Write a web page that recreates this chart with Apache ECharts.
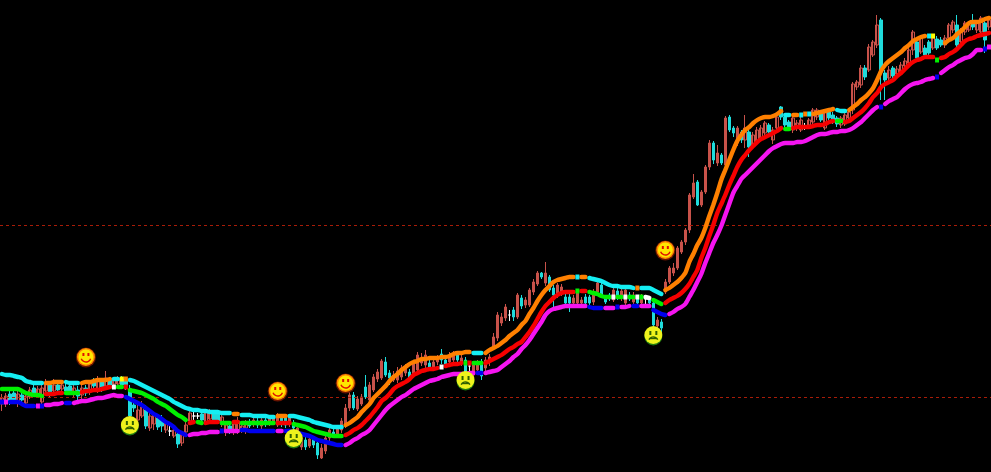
<!DOCTYPE html>
<html><head><meta charset="utf-8">
<style>html,body{margin:0;padding:0;background:#000}#c{width:991px;height:472px}</style>
<script src="https://cdn.jsdelivr.net/npm/echarts@6/dist/echarts.min.js"></script>
</head><body><div id="c"></div>
<script>
// Values are price levels on an axis that grows downward.
const levels = [225, 397];
const upperBand = [
374,375,375,376,377,378,381,382,383,383,
383,383,383,382,382,382,382,383,383,383,
383,382,382,381,380,380,380,379,379,379,
379,379,380,381,383,385,387,389,391,393,
395,397,399,402,404,406,408,409,410,410,
411,411,412,412,412,413,413,413,414,414,
415,415,415,416,416,416,416,417,417,416,
416,416,416,416,417,418,419,420,422,423,
424,425,426,427,427,427,425,423,420,417,
412,408,404,398,394,390,386,381,377,374,
370,367,364,362,361,359,359,358,358,358,
357,357,356,354,353,353,352,352,353,353,
353,353,350,348,346,343,340,336,333,330,
325,321,314,308,301,295,290,286,282,280,
279,278,277,277,277,277,277,278,279,280,
281,283,285,286,286,287,287,287,288,288,
288,288,288,290,292,294,290,288,285,282,
278,273,262,254,245,238,228,216,205,193,
180,170,160,150,141,135,130,127,123,120,
118,117,117,116,114,111,115,115,115,115,
115,114,114,114,113,112,111,110,109,110,
111,111,110,107,104,100,97,93,88,80,
71,65,61,58,55,52,48,45,41,39,
37,36,36,36,38,40,43,40,38,34,
31,27,23,22,22,21,19,18];
const midBand = [
389,389,389,389,389,391,393,394,395,395,
396,394,394,394,393,393,393,393,393,393,
392,391,391,390,390,389,388,387,387,387,
387,387,390,391,392,393,395,397,399,402,
404,406,409,412,415,417,420,423,422,422,
423,423,422,422,422,423,423,423,422,422,
423,423,423,423,423,423,423,423,423,423,
423,423,423,424,425,426,427,429,431,432,
433,434,435,436,436,436,435,433,430,428,
425,421,417,412,407,401,398,394,389,386,
384,382,379,375,373,371,370,369,369,368,
367,366,365,364,364,363,363,363,363,363,
363,363,361,359,357,355,352,349,347,344,
342,337,332,326,319,312,306,302,298,295,
293,292,292,292,291,291,291,292,293,294,
296,297,297,297,297,297,297,297,297,297,
297,297,298,300,302,304,303,300,298,296,
293,289,284,277,270,258,248,236,225,213,
204,195,185,176,167,160,155,150,146,142,
139,137,135,133,131,128,129,129,128,127,
127,127,127,126,125,125,124,122,121,121,
121,122,121,118,115,112,108,103,97,93,
87,84,82,80,76,73,69,65,62,60,
59,57,57,57,60,58,57,54,52,49,
45,41,39,38,36,35,34,33];
const lowerBand = [
402,402,402,402,402,404,406,406,406,406,
406,405,405,404,404,403,403,403,403,402,
401,401,400,399,398,398,397,396,395,396,
396,397,399,401,403,405,408,411,414,416,
419,422,424,427,431,433,435,435,434,434,
433,433,432,432,432,431,431,431,431,431,
430,430,431,431,431,431,431,431,431,431,
431,431,431,432,433,434,435,436,438,440,
441,442,443,444,445,445,445,443,440,438,
435,433,430,425,420,415,410,406,403,400,
397,395,392,389,387,385,383,381,380,379,
377,376,375,374,374,374,374,373,373,373,
373,373,372,371,370,367,364,361,357,354,
349,345,340,334,328,322,315,311,309,308,
307,306,306,306,306,306,306,307,308,308,
308,308,308,308,307,307,307,306,306,306,
306,306,306,310,312,314,315,314,312,309,
307,304,297,290,282,274,263,253,243,235,
226,215,204,193,186,179,175,171,167,163,
159,155,151,148,146,144,143,143,143,142,
142,141,139,137,135,134,134,133,132,132,
131,131,130,128,125,122,118,114,110,107,
107,104,101,99,97,93,89,86,84,83,
82,80,79,78,77,73,70,67,65,62,
60,58,57,54,50,50,49,47];
// Runs of [bars, state] along each band. State "-" means nothing is drawn.
const upperRuns = [[11,'c'],[5,'o'],[4,'c'],[8,'o'],[2,'c'],[1,'y'],[1,'o'],[26,'c'],[2,'o'],[9,'c'],[3,'o'],[14,'c'],[32,'o'],[3,'c'],[23,'o'],[1,'c'],[2,'o'],[12,'c'],[1,'o'],[6,'c'],[30,'o'],[2,'c'],[2,'o'],[1,'c'],[1,'o'],[1,'c'],[6,'o'],[3,'c'],[20,'o'],[1,'c'],[1,'y'],[2,'-'],[12,'o']];
const midRuns = [[11,'g'],[5,'r'],[4,'g'],[8,'r'],[1,'w'],[2,'g'],[1,'r'],[15,'g'],[2,'r'],[2,'g'],[4,'r'],[3,'g'],[2,'r'],[9,'g'],[4,'r'],[13,'g'],[24,'r'],[1,'w'],[5,'r'],[1,'g'],[1,'r'],[3,'g'],[23,'r'],[1,'g'],[2,'r'],[6,'g'],[1,'w'],[2,'g'],[1,'w'],[2,'g'],[1,'w'],[1,'g'],[2,'w'],[3,'g'],[30,'r'],[2,'g'],[11,'r'],[2,'g'],[23,'r'],[1,'g'],[13,'r']];
const lowerRuns = [[1,'b'],[1,'m'],[7,'b'],[1,'m'],[1,'b'],[5,'m'],[2,'b'],[13,'m'],[16,'b'],[8,'m'],[1,'b'],[4,'m'],[9,'b'],[2,'m'],[15,'b'],[33,'m'],[2,'b'],[26,'m'],[4,'b'],[3,'m'],[1,'b'],[3,'m'],[2,'b'],[3,'m'],[4,'b'],[53,'m'],[1,'b'],[13,'m'],[1,'b'],[11,'m'],[1,'b'],[1,'m']];
// [open, close, low, high]; open below close on the page is a rising bar.
const candles = [
[404,398,411,394],[403,396,407,393],[394,401,405,390],[393,400,404,390],[401,394,407,389],[395,400,403,391],[403,396,408,392],[397,390,399,387],[388,394,397,385],[394,389,397,386],
[402,388,404,384],[391,383,396,379],[385,392,397,381],[391,385,395,379],[385,390,395,382],[389,385,393,381],[387,391,394,383],[386,392,395,383],[392,388,397,384],[390,396,400,386],
[395,388,399,384],[388,393,396,385],[390,384,395,380],[381,386,390,378],[389,381,393,376],[381,387,392,378],[386,378,390,371],[380,385,389,377],[384,379,388,377],[384,378,387,376],
[379,385,388,376],[381,386,390,378],[390,416,418,385],[405,408,412,402],[420,410,424,405],[416,407,418,401],[410,426,429,405],[428,416,431,411],[424,415,430,412],[418,427,430,414],
[420,426,432,415],[430,423,433,420],[431,431,436,426],[436,430,438,426],[434,444,448,431],[443,433,446,431],[432,425,436,420],[421,413,424,410],[416,416,420,412],[416,416,419,413],
[414,420,423,412],[423,412,425,409],[419,412,422,409],[414,420,423,410],[414,421,424,412],[424,417,427,413],[432,425,436,421],[426,431,434,423],[431,424,435,421],[431,421,434,417],
[431,426,433,423],[428,423,434,420],[423,426,428,419],[424,420,427,416],[421,425,428,417],[426,420,429,416],[420,424,427,417],[424,418,426,415],[422,417,425,415],[425,415,427,413],
[416,424,427,414],[418,425,428,415],[423,417,427,414],[424,428,430,420],[434,428,436,425],[447,438,450,432],[440,447,450,437],[446,439,448,436],[439,445,448,436],[443,455,459,440],
[458,448,459,444],[451,438,454,434],[438,430,441,426],[432,434,437,428],[434,428,437,425],[430,421,433,418],[425,408,428,404],[408,395,411,391],[395,408,410,392],[409,399,411,396],
[404,397,406,394],[387,397,399,375],[400,385,403,382],[390,377,392,374],[379,372,382,369],[378,361,380,359],[362,375,377,357],[373,378,385,370],[380,375,382,371],[380,371,383,367],
[377,368,380,365],[373,367,376,364],[372,378,380,369],[375,364,377,361],[370,355,373,352],[363,360,366,353],[365,355,368,350],[363,368,370,360],[367,362,369,358],[362,359,365,355],
[354,360,364,349],[360,364,366,356],[362,356,365,352],[360,354,362,351],[355,360,362,352],[363,358,366,354],[360,372,374,357],[366,366,372,362],[375,365,378,361],[370,364,372,360],
[362,376,380,359],[368,360,372,357],[361,357,366,354],[347,337,350,333],[338,315,341,312],[323,317,326,313],[318,307,321,304],[315,315,321,310],[310,317,321,307],[317,295,319,293],
[298,306,309,295],[305,300,308,297],[305,290,307,288],[292,282,295,279],[284,273,286,271],[273,277,279,272],[283,273,286,262],[277,290,292,275],[288,295,307,285],[295,285,298,283],
[293,287,296,284],[297,303,306,294],[297,303,312,294],[303,298,306,295],[303,293,307,290],[303,300,305,297],[297,303,306,294],[297,303,305,295],[302,292,305,289],[292,283,295,280],
[285,295,297,283],[298,302,304,296],[295,299,301,293],[300,290,302,288],[291,297,300,288],[298,291,301,288],[303,290,305,287],[295,299,301,292],[302,295,304,292],[298,303,305,295],
[303,297,305,294],[299,299,304,296],[300,303,305,298],[303,325,327,299],[326,320,328,317],[322,328,332,319],[292,282,294,279],[282,268,284,266],[273,268,276,263],[268,248,270,246],
[252,242,254,240],[242,230,245,228],[230,195,233,193],[197,183,199,174],[182,205,206,180],[205,192,207,190],[192,167,194,165],[167,143,170,140],[143,160,164,141],[163,153,166,145],
[155,163,165,153],[165,118,172,116],[117,130,132,115],[128,133,137,126],[143,128,146,126],[132,140,143,130],[140,128,148,115],[132,147,157,128],[145,135,148,132],[142,130,144,127],
[138,128,141,125],[133,123,135,121],[125,132,135,123],[140,130,144,127],[128,117,131,115],[107,117,120,106],[117,125,128,115],[122,128,130,120],[130,118,133,116],[128,123,131,120],
[130,120,132,116],[126,126,130,123],[125,120,127,118],[122,110,125,108],[117,110,120,108],[113,120,122,111],[128,112,130,110],[112,118,120,110],[115,122,124,112],[118,124,127,116],
[125,118,128,116],[124,115,126,112],[118,112,121,109],[110,84,114,82],[87,82,90,80],[85,68,88,65],[68,77,80,65],[70,47,72,44],[55,42,57,40],[45,25,48,15],
[20,70,100,18],[73,80,100,70],[78,70,80,66],[68,76,78,66],[74,69,78,66],[73,65,76,62],[66,61,70,58],[63,50,66,48],[50,32,55,30],[42,58,62,40],
[52,38,54,35],[48,55,58,45],[42,53,56,40],[48,38,50,36],[39,48,50,36],[40,45,47,37],[45,38,48,35],[38,25,40,23],[30,22,33,20],[25,45,47,15],
[42,30,45,28],[32,23,35,21],[30,25,32,22],[22,27,30,14],[30,22,33,20],[32,18,34,16],[23,40,53,21],[27,20,30,18]];
const smileBars = [21, 69, 86, 166];
const smileLevels = [357, 391, 383, 250];
const frownBars = [32, 73, 116, 163];
const frownLevels = [425, 438, 380, 335];

const stateColors = {c:'#14eef2',o:'#ff8000',y:'#ffff00',g:'#00f000',r:'#f60000',w:'#ffffff',b:'#0000f0',m:'#f514f0'};
const barNames = candles.map((_, i) => String(i));
if (upperBand.length !== candles.length || midBand.length !== candles.length || lowerBand.length !== candles.length) {
  throw new Error('lengths ' + [upperBand.length, midBand.length, lowerBand.length, candles.length].join());
}

function runSeries(band, runs) {
  const out = [];
  let start = 0;
  runs.forEach(([count, state]) => {
    if (state !== '-') {
      const data = band.map((v, i) => (i >= start && i < start + count) ? v : null);
      out.push({
        type: 'line', data, z: 5, silent: true, connectNulls: false, smooth: 0.2,
        symbol: count === 1 ? 'rect' : 'none', symbolSize: [4, 5], showSymbol: count === 1,
        showAllSymbol: count === 1,
        itemStyle: {color: stateColors[state]},
        lineStyle: {color: stateColors[state], width: 4.4, cap: 'round', join: 'round'}
      });
    }
    start += count;
  });
  return out;
}

function faceSeries(bars, vals, happy) {
  return {
    type: 'custom', z: 8, silent: true, coordinateSystem: 'cartesian2d',
    data: bars.map((b, i) => [b, vals[i]]),
    renderItem(params, api) {
      const p = api.coord([api.value(0), api.value(1)]);
      const x = p[0], y = p[1];
      const ink = happy ? '#e01000' : '#2f5f00';
      const kids = happy ? [
        {type:'circle', shape:{cx:x, cy:y+0.5, r:10}, style:{fill:'#6a1400'}},
        {type:'circle', shape:{cx:x, cy:y, r:9}, style:{fill:'#ff8a00'}},
        {type:'circle', shape:{cx:x, cy:y, r:7.5}, style:{fill:'#ffe600'}},
        {type:'rect', shape:{x:x-3.5, y:y-4, width:2, height:3}, style:{fill:ink}},
        {type:'rect', shape:{x:x+1.5, y:y-4, width:2, height:3}, style:{fill:ink}},
        {type:'arc', shape:{cx:x, cy:y, r:5, startAngle:0.35, endAngle:Math.PI-0.35}, style:{fill:null, stroke:ink, lineWidth:1.4}}
      ] : [
        {type:'circle', shape:{cx:x, cy:y+1.5, r:9}, style:{fill:'#1f7a10'}},
        {type:'circle', shape:{cx:x, cy:y, r:9}, style:{fill:'#eef21c'}},
        {type:'rect', shape:{x:x-4, y:y-4, width:2, height:4}, style:{fill:ink}},
        {type:'rect', shape:{x:x+2, y:y-4, width:2, height:4}, style:{fill:ink}},
        {type:'arc', shape:{cx:x, cy:y+7, r:5, startAngle:Math.PI+0.5, endAngle:2*Math.PI-0.5}, style:{fill:null, stroke:ink, lineWidth:1.4}},
        {type:'rect', shape:{x:x-3.5, y:y+3, width:7, height:1.2}, style:{fill:ink}}
      ];
      return {type:'group', children:kids};
    }
  };
}

const chart = echarts.init(document.getElementById('c'), null, {renderer:'canvas'});
chart.setOption({
  animation: false,
  backgroundColor: '#000',
  grid: {left:-1, top:0, width:992, height:472, containLabel:false},
  xAxis: {type:'category', data:barNames, show:false, boundaryGap:true},
  yAxis: {type:'value', inverse:true, min:0, max:472, show:false, splitLine:{show:false}},
  tooltip: {show:false},
  series: [
    {
      type:'candlestick', z:2, silent:true, barWidth:3,
      data: candles.map(c => c[0] === c[1]
        ? {value:c, itemStyle:{color:'#ffffff', borderColor:'#ffffff', color0:'#ffffff', borderColor0:'#ffffff'}}
        : c),
      itemStyle: {color:'#1fdcdc', borderColor:'#1fdcdc', color0:'#140404', borderColor0:'#c8524a', borderWidth:1},
      markLine: {
        silent:true, symbol:'none', label:{show:false}, animation:false,
        lineStyle:{color:'#a81c08', type:[3,3], width:1},
        data: levels.map(v => ({yAxis:v}))
      }
    },
    ...runSeries(upperBand, upperRuns),
    ...runSeries(midBand, midRuns),
    ...runSeries(lowerBand, lowerRuns),
    faceSeries(smileBars, smileLevels, true),
    faceSeries(frownBars, frownLevels, false)
  ]
});
</script></body></html>
